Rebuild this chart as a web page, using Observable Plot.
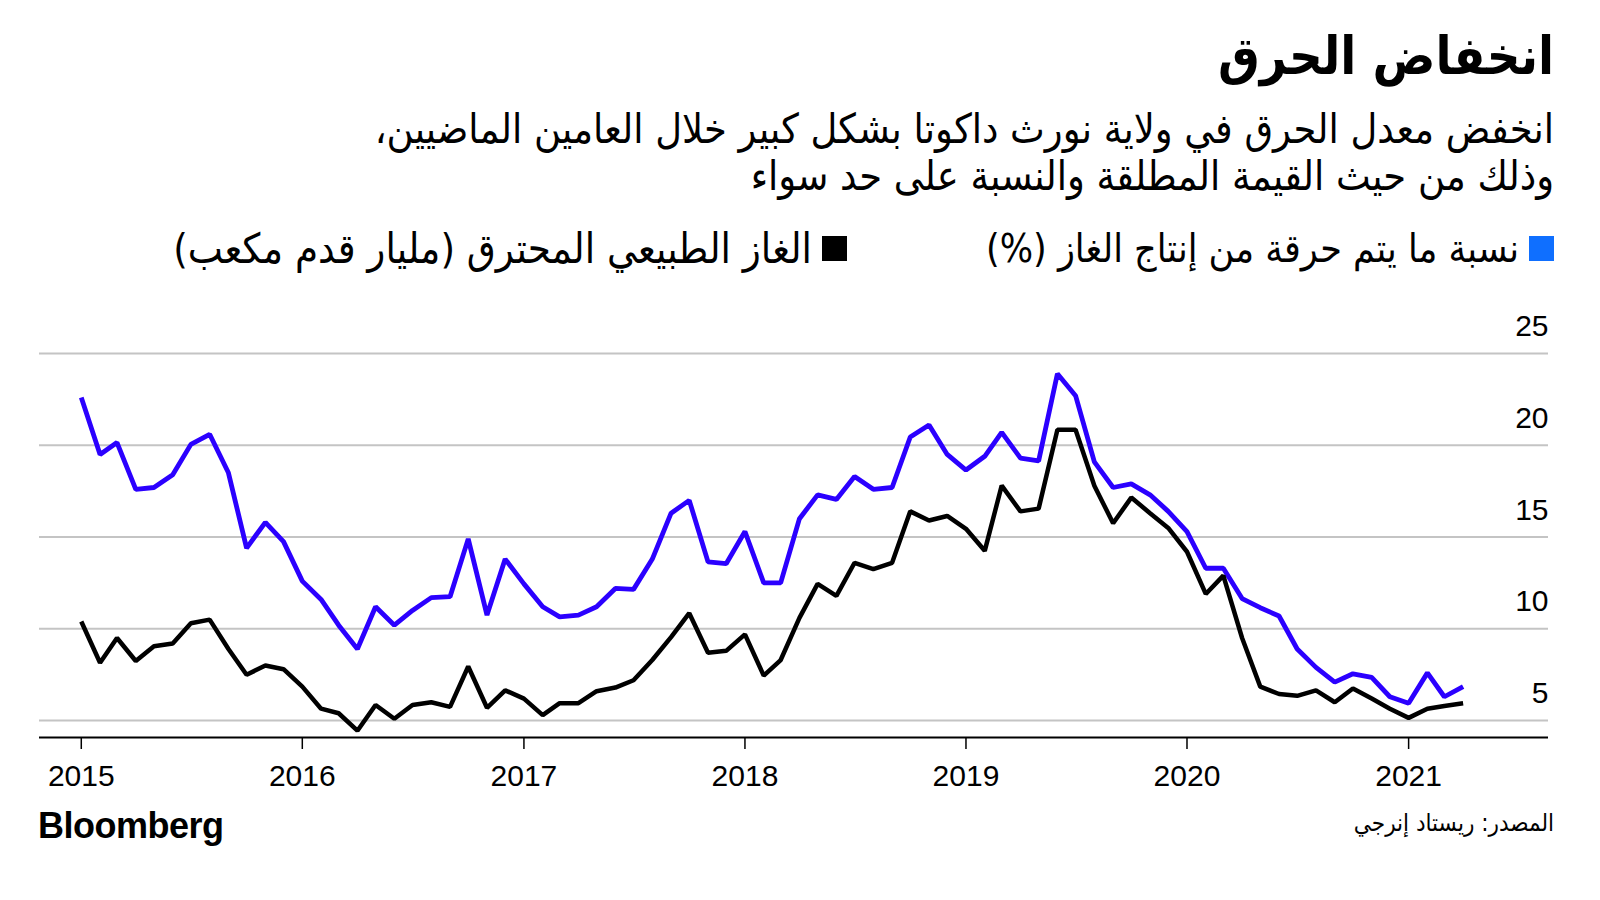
<!DOCTYPE html>
<html lang="ar">
<head>
<meta charset="utf-8">
<script src="https://cdn.jsdelivr.net/npm/d3@7"></script>
<script src="https://cdn.jsdelivr.net/npm/@observablehq/plot@0.6"></script>
<style>
  html, body { margin: 0; padding: 0; background: #fff; }
  #wrap { position: relative; width: 1600px; height: 900px; overflow: hidden; background: #fff; color: #000; }
  .ar { position: absolute; direction: rtl; text-align: right; white-space: nowrap; font-family: "DejaVu Sans Condensed", "DejaVu Sans", sans-serif; }
  #title { right: 46px; top: 21px; font-size: 52px; font-weight: 700; line-height: 70px; }
  #subtitle { right: 46px; top: 106px; font-size: 41px; line-height: 47px; }
  .leg { position: absolute; top: 228px; height: 40px; display: flex; align-items: center; direction: rtl; font-family: "DejaVu Sans Condensed", "DejaVu Sans", sans-serif; white-space: nowrap; }
  .sw { width: 25px; height: 25px; margin-left: 10px; flex: none; }
  #source { right: 46px; top: 806px; font-size: 24px; line-height: 34px; }
  #logo { position: absolute; left: 38px; top: 805px; font-family: "Liberation Sans", Arial, sans-serif; font-weight: 700; font-size: 36px; letter-spacing: -0.5px; line-height: 42px; }
  #chart { position: absolute; left: 0; top: 300px; }
</style>
</head>
<body>
<div id="wrap">
  <div id="title" class="ar">انخفاض الحرق</div>
  <div id="subtitle" class="ar">انخفض معدل الحرق في ولاية نورث داكوتا بشكل كبير خلال العامين الماضيين،<br>وذلك من حيث القيمة المطلقة والنسبة على حد سواء</div>
  <div class="leg" style="right:46px; font-size:39px"><span class="sw" style="background:#0f6fff"></span><span>نسبة ما يتم حرقة من إنتاج الغاز (%)</span></div>
  <div class="leg" style="right:753px; font-size:41.5px"><span class="sw" style="background:#000"></span><span>الغاز الطبيعي المحترق (مليار قدم مكعب)</span></div>
  <div id="chart"></div>
  <div id="logo">Bloomberg</div>
  <div id="source" class="ar">المصدر: ريستاد إنرجي</div>
</div>
<script>
// Monthly data, Jan 2015 – Apr 2021
const startMonth = new Date(Date.UTC(2015, 0, 1));
const endMonth = new Date(Date.UTC(2021, 4, 1));
const months = d3.utcMonth.range(startMonth, endMonth);

// Share of gas production that is flared (%)
const flaredShare = [
  22.6, 19.5, 20.15, 17.6, 17.7, 18.4, 20.05, 20.6, 18.5, 14.4,
  15.8, 14.75, 12.6, 11.6, 10.2, 8.9, 11.2, 10.2, 11.0, 11.7,
  11.75, 14.9, 10.75, 13.8, 12.45, 11.2, 10.65, 10.75, 11.2, 12.2,
  12.15, 13.8, 16.3, 17.0, 13.65, 13.55, 15.3, 12.5, 12.5, 16.0,
  17.3, 17.05, 18.3, 17.6, 17.7, 20.45, 21.1, 19.5, 18.65, 19.4,
  20.7, 19.3, 19.15, 23.9, 22.7, 19.1, 17.7, 17.9, 17.3, 16.4,
  15.3, 13.3, 13.3, 11.65, 11.15, 10.7, 8.9, 7.9, 7.1, 7.55,
  7.35, 6.3, 5.95, 7.6, 6.3, 6.85
];

// Natural gas flared (billion cubic feet)
const flaredVolume = [
  10.4, 8.15, 9.5, 8.25, 9.05, 9.2, 10.3, 10.5, 8.9, 7.5,
  8.0, 7.8, 6.85, 5.65, 5.4, 4.45, 5.85, 5.1, 5.85, 6.0,
  5.75, 7.95, 5.7, 6.65, 6.2, 5.3, 5.95, 5.95, 6.6, 6.8,
  7.2, 8.3, 9.55, 10.85, 8.7, 8.8, 9.7, 7.45, 8.3, 10.6,
  12.45, 11.8, 13.6, 13.25, 13.6, 16.4, 15.9, 16.15, 15.45, 14.25,
  17.8, 16.4, 16.55, 20.85, 20.85, 17.8, 15.75, 17.15, 16.3, 15.5,
  14.2, 11.9, 12.9, 9.5, 6.85, 6.45, 6.35, 6.65, 6.0, 6.75,
  6.2, 5.65, 5.15, 5.65, 5.8, 5.95
];

const yTicks = [5, 10, 15, 20, 25];
const yearTicks = [2015, 2016, 2017, 2018, 2019, 2020, 2021].map(y => new Date(Date.UTC(y, 0, 1)));
const xDomain = [new Date(Date.UTC(2014, 9, 24)), new Date(Date.UTC(2021, 7, 20))];
const yDomain = [4.08, 25];

const shareData = flaredShare.map((v, i) => ({date: months[i], value: v}));
const volumeData = flaredVolume.map((v, i) => ({date: months[i], value: v}));

const chart = Plot.plot({
  width: 1600,
  height: 500,
  marginTop: 53,
  marginBottom: 63,
  marginLeft: 39,
  marginRight: 52,
  x: {type: "utc", domain: xDomain, label: null},
  y: {domain: yDomain, label: null},
  style: {fontFamily: "'Liberation Sans', Arial, sans-serif", fontSize: "30px", color: "#000", background: "transparent", overflow: "visible"},
  marks: [
    Plot.ruleY(yTicks, {stroke: "#c4c4c4", strokeWidth: 2}),
    Plot.ruleY([yDomain[0]], {stroke: "#000", strokeWidth: 2}),
    Plot.axisX({ticks: yearTicks, tickFormat: "%Y", tickSize: 12, tickPadding: 15, strokeWidth: 1.5, strokeOpacity: 1, label: null}),
    Plot.axisY({ticks: yTicks, anchor: "right", tickSize: 0, tickPadding: 0, textAnchor: "end", dy: -27, label: null}),
    Plot.lineY(shareData, {x: "date", y: "value", stroke: "#2b00ff", strokeWidth: 4.8, strokeLinejoin: "miter", strokeLinecap: "butt"}),
    Plot.lineY(volumeData, {x: "date", y: "value", stroke: "#000", strokeWidth: 4.5, strokeLinejoin: "miter", strokeLinecap: "butt"})
  ]
});
document.getElementById("chart").appendChild(chart);
</script>
</body>
</html>
